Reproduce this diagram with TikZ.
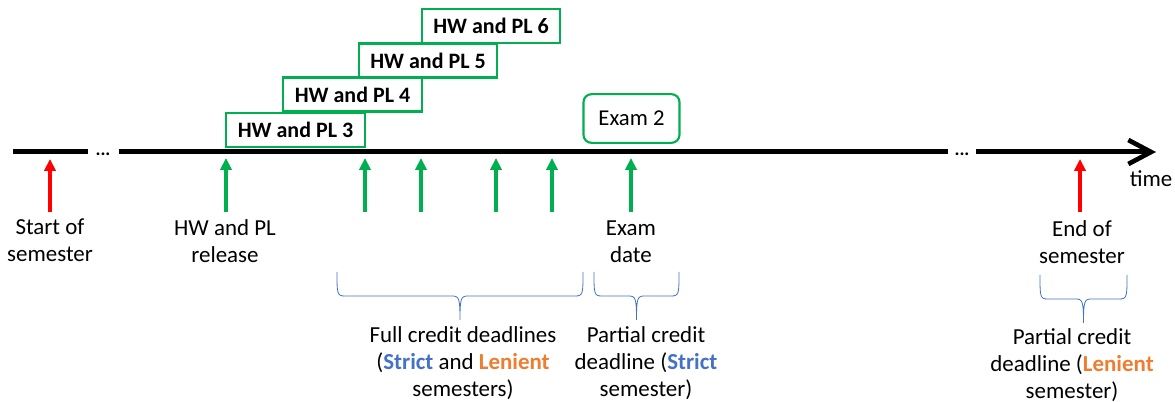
\documentclass[tikz,border=0pt]{standalone}
\usepackage{fontspec}
\setmainfont{Carlito}
\usetikzlibrary{arrows.meta}
\definecolor{offgreen}{HTML}{00B050}
\definecolor{offblue}{HTML}{4472C4}
\definecolor{offorange}{HTML}{ED7D31}
\tikzset{
  lbl/.style={align=center,inner sep=0pt,font=\fontsize{17.2pt}{20.3pt}\selectfont},
  hwbox/.style={draw=offgreen,line width=1.6pt,fill=white,minimum width=104pt,minimum height=25.5pt,inner sep=0pt,font=\fontsize{16.5pt}{20pt}\selectfont\bfseries},
  exambox/.style={draw=offgreen,line width=1.6pt,fill=white,rounded corners=6pt,minimum width=72pt,minimum height=36.5pt,inner sep=0pt,font=\fontsize{17pt}{20pt}\selectfont},
  axis/.style={line width=3.75pt},
  greenarrow/.style={draw=offgreen,line width=2.5pt,-{Triangle[width=8.5pt,length=9pt]}},
  redarrow/.style={draw=red,line width=2.5pt,-{Triangle[width=8.5pt,length=9pt]}},
  bracestyle/.style={draw=offblue,line width=0.6pt},
  dotsnode/.style={inner sep=0pt,anchor=base,font=\fontsize{14pt}{15pt}\selectfont\bfseries},
}
% curly brace opening downward: #1 left x, #2 right x, #3 top y
\newcommand\tlbrace[3]{%
  \draw[bracestyle] (#1,#3) .. controls (#1,{#3+22}) and (#1,{#3+24}) .. ({#1+8},{#3+24})
    -- ({(#1+#2)/2-8},{#3+24}) .. controls ({(#1+#2)/2-1},{#3+24}) and ({(#1+#2)/2},{#3+26}) .. ({(#1+#2)/2},{#3+48})
    .. controls ({(#1+#2)/2},{#3+26}) and ({(#1+#2)/2+1},{#3+24}) .. ({(#1+#2)/2+8},{#3+24})
    -- ({#2-8},{#3+24}) .. controls (#2,{#3+24}) and (#2,{#3+22}) .. (#2,#3);}
\begin{document}
\begin{tikzpicture}[x=0.75pt,y=-0.75pt]
\useasboundingbox (0,0) rectangle (1175,402);
% timeline
\coordinate (a0) at (13,152);
\coordinate (a1) at (88,152);
\coordinate (b0) at (119,152);
\coordinate (b1) at (948,152);
\coordinate (c0) at (976,152);
\coordinate (c1) at (1156,152);
\draw[axis] (a0) -- (a1);
\draw[axis] (b0) -- (b1);
\draw[axis,-{Straight Barb[length=17pt,width=18pt,line width=3.5pt]}] (c0) -- (c1);
\node[dotsnode] (d1) at (103,156) {...};
\node[dotsnode] (d2) at (962,156) {...};
\node[lbl,anchor=north] (time) at (1151,170) {time};
% boxes
\node[hwbox] (hw6) at (491,26) {HW and PL 6};
\node[hwbox] (hw5) at (428,60.5) {HW and PL 5};
\node[hwbox] (hw4) at (352.5,94.5) {HW and PL 4};
\node[hwbox] (hw3) at (295.5,130) {HW and PL 3};
\node[exambox] (exam) at (631.5,118.5) {Exam 2};
% arrows
\coordinate (rs0) at (50,212); \coordinate (rs1) at (50,159);
\coordinate (re0) at (1080,212); \coordinate (re1) at (1080,159);
\draw[redarrow] (rs0) -- (rs1);
\draw[redarrow] (re0) -- (re1);
\foreach \x/\n in {226/g1,365/g2,421/g3,496/g4,552/g5,631/g6}{
  \coordinate (\n0) at (\x,212);
  \coordinate (\n1) at (\x,158);
  \draw[greenarrow] (\n0) -- (\n1);
}
% labels
\node[lbl] (lstart) at (50,240) {Start of\\semester};
\node[lbl] (lrel) at (225,241) {HW and PL\\release};
\node[lbl] (ldate) at (631,242) {Exam\\date};
\node[lbl] (lend) at (1082,242) {End of\\semester};
% braces
\tlbrace{337}{583}{272}
\tlbrace{594}{679}{272}
\tlbrace{1040}{1127}{275}
\node[lbl] (lfull) at (463,363) {Full credit deadlines\\(\textcolor{offblue}{\bfseries Strict} and \textcolor{offorange}{\bfseries Lenient}\\semesters)};
\node[lbl] (lps) at (646,363) {Partial credit\\deadline (\textcolor{offblue}{\bfseries Strict}\\semester)};
\node[lbl] (lpl) at (1072,365) {Partial credit\\deadline (\textcolor{offorange}{\bfseries Lenient}\\semester)};
\end{tikzpicture}
\end{document}
